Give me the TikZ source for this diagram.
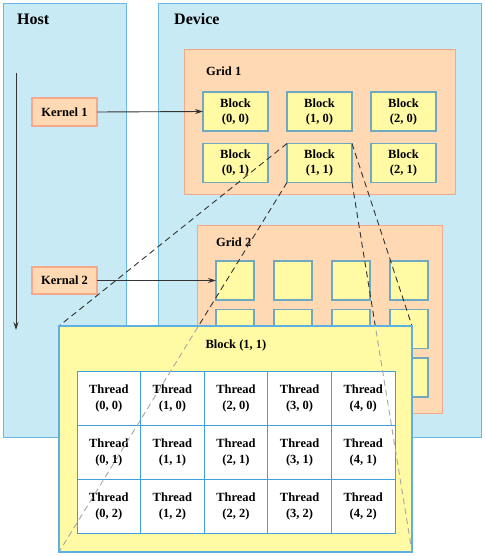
\documentclass[tikz,border=0pt]{standalone}
\usepackage{fontspec}
\setmainfont{Liberation Serif}
\usetikzlibrary{arrows.meta}
\definecolor{panelfill}{HTML}{C8EAF4}
\definecolor{panelline}{HTML}{6BB8E8}
\definecolor{gridfill}{HTML}{FFD9B3}
\definecolor{gridline}{HTML}{F5A98A}
\definecolor{blockfill}{HTML}{FFFAA3}
\definecolor{blockline}{HTML}{6FA8BF}
\definecolor{bigline}{HTML}{5DB0E0}
\definecolor{cellline}{HTML}{3DA0DA}
\definecolor{arrowcol}{HTML}{333333}
\tikzset{
  box/.style={inner sep=0pt, outer sep=0pt, line width=1pt},
  panel/.style={box, draw=panelline, fill=panelfill},
  gridbox/.style={box, draw=gridline, fill=gridfill},
  kernbox/.style={box, draw=gridline, fill=gridfill, line width=1.2pt, font=\bfseries\fontsize{12.5}{15}\selectfont},
  blockbox/.style={box, draw=blockline, fill=blockfill, line width=1.2pt, minimum width=65pt, minimum height=39pt, align=center, font=\bfseries\fontsize{12.5}{15}\selectfont},
  smallblock/.style={box, draw=blockline, fill=blockfill, line width=1.2pt, minimum width=38pt, minimum height=39pt},
  cell/.style={box, draw=cellline, fill=white, minimum width=63.6pt, minimum height=54pt, align=center, font=\bfseries\fontsize{12.5}{16}\selectfont},
  title/.style={font=\bfseries\fontsize{16}{19}\selectfont, inner sep=0pt},
  label/.style={font=\bfseries\fontsize{12.5}{15}\selectfont, inner sep=0pt},
  conn/.style={draw=arrowcol, line width=0.9pt, -{Stealth[length=8pt,width=5pt]}},
  zoomline/.style={draw=black!80, line width=0.9pt, dash pattern=on 6pt off 4pt},
  zoomgray/.style={draw=black!35, line width=0.9pt, dash pattern=on 6pt off 4pt}
}
\begin{document}
\begin{tikzpicture}[x=1pt,y=-1pt]
\useasboundingbox (0,0) rectangle (484,556);
% panels
\node[panel, minimum width=123pt, minimum height=433pt] (host) at (64.5,220.5) {};
\node[panel, minimum width=323pt, minimum height=433pt] (device) at (319.5,220.5) {};
\node[title, anchor=west] (hostlbl) at (17,19) {Host};
\node[title, anchor=west] (devlbl) at (174,19) {Device};
% grid 1
\node[gridbox, minimum width=271pt, minimum height=144pt] (grid1) at (319.5,122) {};
\node[label, anchor=west] (g1lbl) at (206,71) {Grid 1};
\node[blockbox] (b00) at (235.5,111.5) {Block\\(0, 0)};
\node[blockbox] (b10) at (319.5,111.5) {Block\\(1, 0)};
\node[blockbox] (b20) at (403.5,111.5) {Block\\(2, 0)};
\node[blockbox] (b01) at (235.5,163) {Block\\(0, 1)};
\node[blockbox] (b11) at (319.5,163) {Block\\(1, 1)};
\node[blockbox] (b21) at (403.5,163) {Block\\(2, 1)};
% kernels
\node[kernbox, minimum width=65pt, minimum height=28pt] (k1) at (64.5,112) {Kernel 1};
\node[kernbox, minimum width=65pt, minimum height=27pt] (k2) at (64.5,280.5) {Kernal 2};
% time arrow
\coordinate (tstart) at (16,73);
\coordinate (tend) at (16,330);
\draw[conn] (tstart) -- (tend);
% grid 2
\node[gridbox, minimum width=245pt, minimum height=188pt] (grid2) at (319.5,319) {};
\node[label, anchor=west] (g2lbl) at (216,242) {Grid 2};
\foreach \c/\x in {0/235,1/293,2/351,3/409}{
  \foreach \r/\y in {0/280.5,1/329,2/377.5}{
    \node[smallblock] (s\c\r) at (\x,\y) {};
  }
}
% arrows
\draw[conn] (k1.east) -- (b00.west);
\draw[conn] (k2.east) -- (s00.west);
% big block corner coordinates
\coordinate (bnw) at (59,326);
\coordinate (bne) at (412,326);
\coordinate (bsw) at (59,552);
\coordinate (bse) at (412,552);
% zoom lines (black)
\draw[zoomline] (b11.north west) -- (bnw);
\draw[zoomline] (b11.south west) -- (bsw);
\draw[zoomline] (b11.north east) -- (bne);
\draw[zoomline] (b11.south east) -- (bse);
% big block
\node[box, draw=bigline, fill=blockfill, line width=1.2pt, minimum width=353pt, minimum height=226pt] (big) at (235.5,439) {};
\node[label] (biglbl) at (236,345) {Block (1, 1)};
\foreach \c/\x in {0/108.8,1/172.4,2/236,3/299.6,4/363.2}{
  \foreach \r/\y in {0/398,1/452,2/506}{
    \node[cell] (t\c\r) at (\x,\y) {Thread\\(\c, \r)};
  }
}
% zoom lines (inside, gray)
\begin{scope}
\clip (big.north west) rectangle (big.south east);
\draw[zoomgray] (b11.north west) -- (bnw);
\draw[zoomgray] (b11.south west) -- (bsw);
\draw[zoomgray] (b11.north east) -- (bne);
\draw[zoomgray] (b11.south east) -- (bse);
\end{scope}
\end{tikzpicture}
\end{document}
